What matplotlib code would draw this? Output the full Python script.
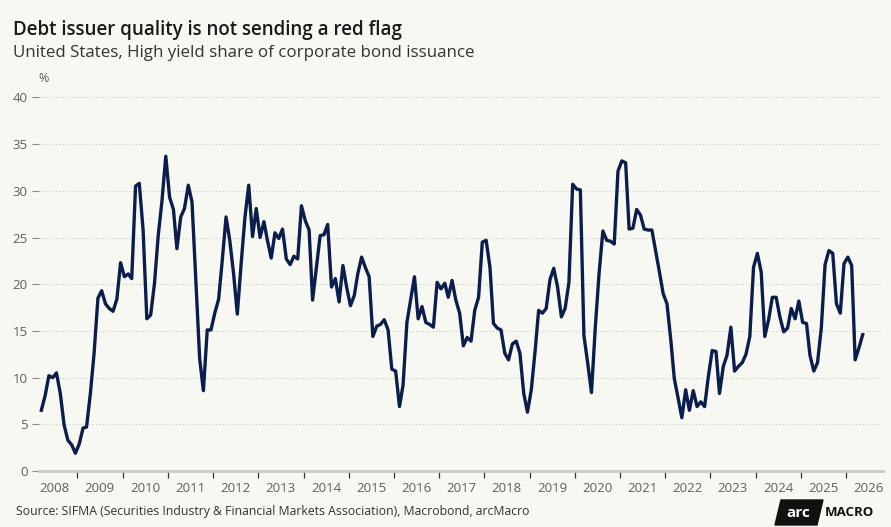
import numpy as np
import pandas as pd
import matplotlib
matplotlib.use("Agg")
from matplotlib import pyplot as plt
import matplotlib.dates as mdates
from matplotlib.patches import Polygon
from datetime import datetime

plt.rcParams['font.family'] = ['Open Sans', 'DejaVu Sans']

# monthly high yield share of issuance, %, starting Mar 2008
hy_share = [
    6.5, 8.1, 10.2, 10.0, 10.5, 8.3, 4.9, 3.3, 2.8, 1.9,
    2.9, 4.6, 4.7, 8.3, 12.6, 18.5, 19.3, 17.9, 17.4, 17.1,
    18.4, 22.3, 20.8, 21.1, 20.6, 30.5, 30.8, 25.8, 16.3, 16.7,
    20.1, 25.2, 29.0, 33.7, 29.3, 28.0, 23.8, 27.2, 28.1, 30.6,
    28.8, 20.4, 12.0, 8.6, 15.1, 15.1, 16.9, 18.4, 22.5, 27.2,
    24.7, 21.1, 16.8, 22.2, 27.2, 30.6, 25.1, 28.1, 25.0, 26.7,
    24.7, 22.8, 25.5, 24.9, 25.9, 22.7, 22.1, 23.0, 22.7, 28.4,
    26.8, 25.8, 18.3, 21.8, 25.2, 25.3, 26.4, 19.7, 20.6, 18.1,
    22.0, 19.7, 17.7, 18.8, 21.1, 22.9, 21.8, 20.8, 14.4, 15.5,
    15.7, 16.2, 15.1, 10.9, 10.7, 6.9, 9.2, 15.9, 18.3, 20.8,
    16.3, 17.6, 15.9, 15.7, 15.4, 20.2, 19.5, 20.1, 18.6, 20.4,
    18.3, 16.9, 13.4, 14.3, 13.9, 17.2, 18.6, 24.5, 24.7, 21.8,
    15.8, 15.3, 15.1, 12.6, 11.9, 13.6, 13.9, 12.6, 8.3, 6.3,
    8.7, 12.9, 17.2, 16.9, 17.4, 20.5, 21.7, 19.7, 16.5, 17.4,
    20.2, 30.7, 30.2, 30.1, 14.5, 11.5, 8.4, 15.4, 21.1, 25.7,
    24.7, 24.6, 24.3, 32.1, 33.2, 33.0, 25.9, 26.0, 28.0, 27.4,
    25.9, 25.8, 25.8, 23.6, 21.3, 19.0, 17.9, 14.0, 9.9, 7.8,
    5.7, 8.7, 6.5, 8.6, 6.9, 7.4, 6.9, 10.1, 12.9, 12.8,
    8.3, 11.2, 12.4, 15.4, 10.7, 11.2, 11.6, 12.5, 14.4, 21.8,
    23.3, 21.3, 14.4, 16.2, 18.6, 18.6, 16.5, 14.9, 15.3, 17.4,
    16.3, 18.2, 15.9, 15.8, 12.4, 10.7, 11.6, 15.4, 22.1, 23.6,
    23.3, 17.9, 16.9, 22.2, 22.9, 22.0, 11.9, 13.2, 14.6,
]
dates = pd.date_range("2008-03-01", periods=len(hy_share), freq="MS") + pd.Timedelta(days=14)
y_ticks = [0, 5, 10, 15, 20, 25, 30, 35, 40]

bg = "#f8f8f3"
navy = "#0b1d4c"
grey_txt = "#5e5e5e"

fig = plt.figure(figsize=(8.91, 5.27), dpi=100, facecolor=bg)
ax = fig.add_axes([39 / 891, 1 - 471 / 527, (883 - 39) / 891, (471 - 94.6) / 527])
ax.set_facecolor(bg)

ax.plot(dates, hy_share, color=navy, lw=2.4, solid_joinstyle="round", zorder=3)

ax.set_ylim(0, 40.3)
ax.set_xlim(datetime(2008, 2, 25), datetime(2026, 10, 26))
ax.set_yticks(y_ticks)
ax.grid(axis="y", color="#c9c9c4", lw=0.8, ls=(0, (1, 2)))
ax.set_axisbelow(True)

for s in ["top", "right", "left"]:
    ax.spines[s].set_visible(False)
ax.spines["bottom"].set_color("#c8c8c4")
ax.spines["bottom"].set_linewidth(2)

ax.tick_params(axis="y", length=5, width=0.8, color="#888888", labelcolor=grey_txt,
               labelsize=9.5, pad=3)

# year ticks at boundaries, labels mid-year
ax.xaxis.set_major_locator(mdates.YearLocator())
ax.xaxis.set_major_formatter(plt.NullFormatter())
ax.xaxis.set_minor_locator(mdates.MonthLocator(bymonth=7))
ax.xaxis.set_minor_formatter(mdates.DateFormatter("%Y"))
ax.tick_params(axis="x", which="major", length=5, width=0.9, color="#333333")
ax.tick_params(axis="x", which="minor", length=0, labelcolor=grey_txt, labelsize=9.5, pad=8)

fig.text(38 / 891, 1 - 78 / 527, "%", fontsize=9, color=grey_txt, va="center")

fig.text(13 / 891, 1 - 35 / 527, "Debt issuer quality is not sending a red flag",
         fontsize=13.5, fontweight="semibold", color="#1a1a1a", va="baseline")
fig.text(13 / 891, 1 - 57 / 527, "United States, High yield share of corporate bond issuance",
         fontsize=12.2, color="#333333", va="baseline")
fig.text(16 / 891, 1 - 515 / 527,
         "Source: SIFMA (Securities Industry & Financial Markets Association), Macrobond, arcMacro",
         fontsize=8.8, color="#333333", va="baseline")

# logo
px = lambda x, y: (x / 891, 1 - y / 527)
fig.patches.append(Polygon([px(775, 525), px(781, 500), px(823, 500), px(817, 525)],
                           closed=True, transform=fig.transFigure, color="#111111"))
fig.text(798 / 891, 1 - 513 / 527, "arc", fontsize=11, fontweight="bold", color="white",
         ha="center", va="center")
fig.text(825 / 891, 1 - 513 / 527, "MACRO", fontsize=9.5, fontweight="bold", color="#111111",
         ha="left", va="center")

fig.savefig("out.png", dpi=100, facecolor=bg)
